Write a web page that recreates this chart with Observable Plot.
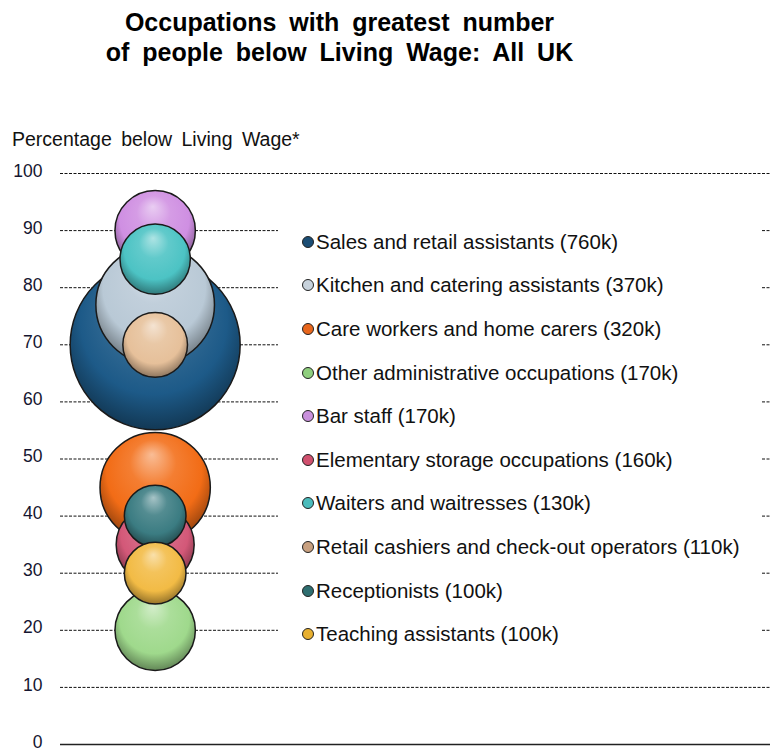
<!DOCTYPE html>
<html><head><meta charset="utf-8">
<script src="https://cdn.jsdelivr.net/npm/d3@7"></script>
<script src="https://cdn.jsdelivr.net/npm/@observablehq/plot@0.6"></script>
<style>
body{margin:0;background:#fff;font-family:"Liberation Sans",Arial,sans-serif;}
#wrap{position:relative;width:771px;height:751px;overflow:hidden;}
#head{position:relative;height:120px;}
#title{position:absolute;left:0;width:679px;top:7px;text-align:center;font-weight:bold;font-size:25px;line-height:30px;color:#000;word-spacing:6px;}
#ylab{position:absolute;left:12px;top:128px;font-size:19.5px;color:#111;word-spacing:4px;z-index:2;}
#legend{position:absolute;left:278px;top:215px;width:484px;height:437px;background:#fff;padding-top:5px;box-sizing:border-box;}
.row{height:43.6px;display:flex;align-items:center;font-size:20.5px;color:#111;white-space:nowrap;}
.dot{width:12px;height:12px;box-sizing:border-box;border-radius:50%;border:1.4px solid #222;margin-left:24px;margin-right:2px;flex:none;}
</style></head><body>
<div id="wrap">
<div id="head"><div id="title">Occupations with greatest number<br>of people below Living Wage: All UK</div></div>
<div id="ylab">Percentage below Living Wage*</div>
<div id="chart"></div>
<div id="legend"></div>
</div>
<script>
const occupations = ["Sales and retail assistants","Kitchen and catering assistants","Care workers and home carers","Other administrative occupations","Bar staff","Elementary storage occupations","Waiters and waitresses","Retail cashiers and check-out operators","Receptionists","Teaching assistants"];
const workersK = [760,370,320,170,170,160,130,110,100,100];
const percentBelow = [70,77,45,20,90,35,85,70,40,30];
const bubbleColors = ["#1d5a88","#b9c9d6","#f26c16","#9fd98c","#cf8fe2","#d35878","#4cc3c4","#e6c09a","#3b7c82","#f2bb45"];
const legendColors = ["#1b4d74","#c7d2dc","#e8661c","#8fcf7e","#c990dc","#d0506e","#4bbcbc","#c8a080","#2e6e70","#e8b030"];
const yTicks = [0,10,20,30,40,50,60,70,80,90,100];

const data = occupations.map((name,i)=>({name, workers: workersK[i], pct: percentBelow[i], x: 1, grad: `url(#bub${i})`}));

const plot = Plot.plot({
  width: 771, height: 631,
  marginTop: 53, marginBottom: 7, marginLeft: 60, marginRight: 1,
  style: {fontSize: "17.5px", fontFamily: "'Liberation Sans', Arial, sans-serif", color: "#151530", background: "transparent"},
  x: {domain: [0, 7.5], axis: null},
  y: {domain: [0, 100], axis: null},
  r: {domain: [0, 760], range: [0, 85]},
  color: {type: "identity"},
  marks: [
    Plot.gridY(yTicks.filter(d => d > 0), {stroke: "#111", strokeOpacity: 1, strokeDasharray: "3,1.5", strokeWidth: 1}),
    Plot.ruleY([0], {stroke: "#222", strokeWidth: 1.5}),
    Plot.axisY(yTicks, {tickSize: 0, tickPadding: 18, label: null, fontSize: 17.5, dy: -2.5}),
    Plot.dot(data, {x: "x", y: "pct", r: "workers", fill: "grad", stroke: "#1a1a1a", strokeWidth: 1.5})
  ]
});

// sphere-like gradients
const svg = d3.select(plot);
const defs = svg.insert("defs", ":first-child");
bubbleColors.forEach((c, i) => {
  const g = defs.append("radialGradient").attr("id", `bub${i}`)
    .attr("cx", "0.5").attr("cy", "0.42").attr("r", "0.6").attr("fx", "0.47").attr("fy", "0.2");
  const base = d3.color(c);
  g.append("stop").attr("offset", "0%").attr("stop-color", d3.interpolateRgb(c, "#ffffff")(0.55));
  g.append("stop").attr("offset", "35%").attr("stop-color", d3.interpolateRgb(c, "#ffffff")(0.12));
  g.append("stop").attr("offset", "72%").attr("stop-color", base.formatHex());
  g.append("stop").attr("offset", "100%").attr("stop-color", base.darker(1.5).formatHex());
});

document.getElementById("chart").appendChild(plot);

const legend = d3.select("#legend");
occupations.forEach((name, i) => {
  const row = legend.append("div").attr("class", "row");
  row.append("span").attr("class", "dot").style("background", legendColors[i]);
  row.append("span").text(`${name} (${workersK[i]}k)`);
});
</script>
</body></html>
